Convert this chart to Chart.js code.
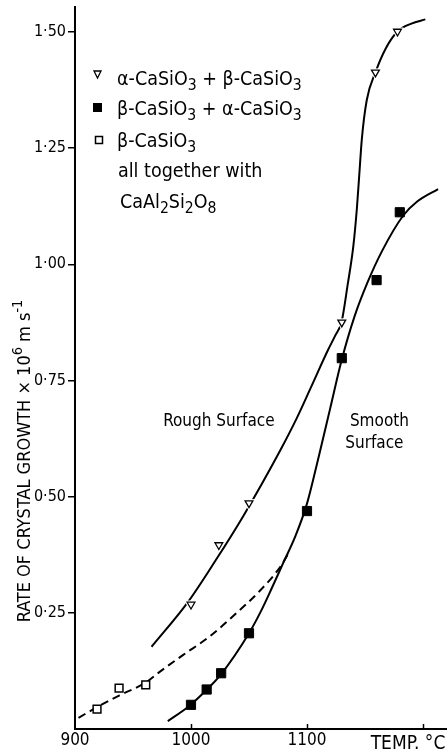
<!DOCTYPE html>
<html>
<head>
<meta charset="utf-8">
<script src="https://cdn.jsdelivr.net/npm/chart.js@4.4.1/dist/chart.umd.min.js"></script>
<style>
html,body{margin:0;padding:0;background:#fff;}
#c{display:block;}
</style>
</head>
<body>
<canvas id="c" width="447" height="752"></canvas>
<script>
const FONT = '"DejaVu Sans Condensed", "DejaVu Sans", sans-serif';
const TICKFONT = '"DejaVu Sans Condensed", "DejaVu Sans", sans-serif';

// measured points
const triTemp = [1000, 1024, 1050, 1130, 1159, 1178];
const triRate = [0.268, 0.396, 0.486, 0.875, 1.413, 1.501];
const fillTemp = [1000, 1013.5, 1026, 1050, 1100, 1130, 1160, 1180];
const fillRate = [0.052, 0.085, 0.120, 0.206, 0.469, 0.798, 0.966, 1.112];
const openTemp = [919, 938, 961];
const openRate = [0.043, 0.088, 0.095];

// fitted curves
const roughTemp = [966, 997, 1021, 1045, 1077, 1091, 1103, 1118, 1124, 1130, 1135, 1140, 1143, 1145, 1147.3, 1151.5, 1159, 1168, 1178, 1190, 1202];
const roughRate = [0.177, 0.272, 0.362, 0.458, 0.600, 0.668, 0.733, 0.815, 0.845, 0.878, 0.955, 1.040, 1.120, 1.190, 1.270, 1.353, 1.413, 1.465, 1.501, 1.518, 1.527];
const smoothTemp = [980, 997, 1013, 1026, 1050, 1060, 1070, 1080, 1090, 1100, 1110, 1120, 1130, 1141, 1152, 1165, 1183, 1195, 1213];
const smoothRate = [0.017, 0.047, 0.083, 0.118, 0.206, 0.252, 0.305, 0.360, 0.415, 0.485, 0.585, 0.690, 0.795, 0.888, 0.960, 1.030, 1.105, 1.135, 1.162];
const dashTemp = [903, 919, 938, 961, 973, 993, 1016, 1039, 1060, 1077, 1084];
const dashRate = [0.024, 0.047, 0.072, 0.100, 0.123, 0.159, 0.199, 0.249, 0.299, 0.349, 0.378];

// axes
const xTicks = [900, 1000, 1100, 1200];
const xTickLabels = ['900', '1000', '1100', ''];
const xUnitLabel = 'TEMP. °C';
const yTicks = [0.25, 0.50, 0.75, 1.00, 1.25, 1.50];
const yTitle = [['RATE OF CRYSTAL GROWTH × 10', ''], ['6', 'sup'], [' m s', ''], ['-1', 'sup']];

const legendRows = [
  {marker: 'tri', parts: [['α-CaSiO', ''], ['3', 'sub'], [' + β-CaSiO', ''], ['3', 'sub']]},
  {marker: 'fill', parts: [['β-CaSiO', ''], ['3', 'sub'], [' + α-CaSiO', ''], ['3', 'sub']]},
  {marker: 'open', parts: [['β-CaSiO', ''], ['3', 'sub']]},
  {marker: null, parts: [['all together with', '']]},
  {marker: null, parts: [['CaAl', ''], ['2', 'sub'], ['Si', ''], ['2', 'sub'], ['O', ''], ['8', 'sub']]}
];
const notes = [
  {text: 'Rough Surface', x: 976, y: 0.662},
  {text: 'Smooth', x: 1137, y: 0.662},
  {text: 'Surface', x: 1133, y: 0.615}
];

const pts = (xs, ys) => xs.map((x, i) => ({x: x, y: ys[i]}));

function rich(ctx, parts, x, y, size) {
  ctx.textBaseline = 'alphabetic';
  ctx.textAlign = 'left';
  for (const [t, k] of parts) {
    const s = k ? size * 0.8 : size;
    ctx.font = s + 'px ' + FONT;
    const dy = k === 'sub' ? size * 0.25 : (k === 'sup' ? -size * 0.45 : 0);
    ctx.fillText(t, x, y + dy);
    x += ctx.measureText(t).width;
  }
  return x;
}
function richWidth(ctx, parts, size) {
  let w = 0;
  for (const [t, k] of parts) {
    const s = k ? size * 0.8 : size;
    ctx.font = s + 'px ' + FONT;
    w += ctx.measureText(t).width;
  }
  return w;
}

const annot = {
  id: 'annot',
  afterDraw(chart) {
    const ctx = chart.ctx;
    const xs = chart.scales.x, ys = chart.scales.y;
    ctx.save();
    ctx.fillStyle = '#000';
    ctx.strokeStyle = '#000';
    // inner x ticks
    ctx.lineWidth = 1.5;
    for (const v of xTicks.slice(1)) {
      const px = Math.round(xs.getPixelForValue(v)) + 0.5;
      ctx.beginPath();
      ctx.moveTo(px, ys.bottom);
      ctx.lineTo(px, ys.bottom - 5);
      ctx.stroke();
    }
    // unit label at the end of the x axis
    ctx.font = '19px ' + FONT;
    ctx.textAlign = 'center';
    ctx.textBaseline = 'alphabetic';
    ctx.fillText(xUnitLabel, xs.getPixelForValue(1200) - 15, 749);
    // y title
    ctx.save();
    const w = richWidth(ctx, yTitle, 18);
    ctx.translate(30, 461);
    ctx.rotate(-Math.PI / 2);
    rich(ctx, yTitle, -w / 2, 0, 18);
    ctx.restore();
    // legend
    const rowsY = [85, 115, 147, 177, 208];
    legendRows.forEach((r, i) => {
      if (r.marker === 'tri') {
        const cy = 74;
        ctx.lineWidth = 1.3;
        ctx.beginPath();
        ctx.moveTo(94, cy - 3);
        ctx.lineTo(101, cy - 3);
        ctx.lineTo(97.5, cy + 4);
        ctx.closePath();
        ctx.stroke();
      } else if (r.marker === 'fill') {
        ctx.fillRect(93, 103, 9, 9);
      } else if (r.marker === 'open') {
        ctx.lineWidth = 1.5;
        ctx.strokeRect(95.5, 136.5, 7, 7);
      }
      const x0 = r.marker ? 117 : 118;
      rich(ctx, r.parts, i === 4 ? 120 : x0, rowsY[i], 19.5);
    });
    // surface notes
    ctx.font = '17px ' + FONT;
    ctx.textAlign = 'left';
    ctx.textBaseline = 'middle';
    for (const n of notes) {
      ctx.fillText(n.text, xs.getPixelForValue(n.x), ys.getPixelForValue(n.y));
    }
    ctx.restore();
  }
};

const curve = (xs, ys, dash) => ({
  data: pts(xs, ys), showLine: true, pointRadius: 0, borderColor: '#000', borderWidth: 2,
  cubicInterpolationMode: 'monotone', borderDash: dash || [], fill: false, order: 3
});

new Chart(document.getElementById('c'), {
  type: 'scatter',
  data: {
    datasets: [
      curve(roughTemp, roughRate),
      curve(smoothTemp, smoothRate),
      curve(dashTemp, dashRate, [8, 5]),
      {data: pts(triTemp, triRate), pointStyle: 'triangle', rotation: 180, pointRadius: 7,
       backgroundColor: '#fff', borderColor: '#fff', borderWidth: 1, order: 2},
      {data: pts(triTemp, triRate), pointStyle: 'triangle', rotation: 180, pointRadius: 4.5,
       backgroundColor: '#fff', borderColor: '#000', borderWidth: 1.3, order: 1},
      {data: pts(fillTemp, fillRate), pointStyle: 'rect', pointRadius: 6.5,
       backgroundColor: '#000', borderColor: '#000', borderWidth: 1, order: 1},
      {data: pts(openTemp, openRate), pointStyle: 'rect', pointRadius: 5.5,
       backgroundColor: '#fff', borderColor: '#000', borderWidth: 1.5, order: 1}
    ]
  },
  options: {
    responsive: false, animation: false, devicePixelRatio: 1,
    layout: {autoPadding: false, padding: {top: 7, left: 0, right: 0, bottom: 0}},
    plugins: {legend: {display: false}, tooltip: {enabled: false}},
    scales: {
      x: {
        type: 'linear', min: 900, max: 1220.7,
        afterBuildTicks: s => { s.ticks = xTicks.map(v => ({value: v})); },
        afterFit: s => { s.height = 23; },
        border: {display: true, color: '#000', width: 2},
        grid: {display: true, drawOnChartArea: false, drawTicks: false},
        ticks: {callback: (v, i) => xTickLabels[i], color: '#000', font: {family: TICKFONT, size: 17},
                padding: 1, maxRotation: 0, autoSkip: false}
      },
      y: {
        type: 'linear', min: 0, max: 1.5537,
        afterBuildTicks: s => { s.ticks = yTicks.map(v => ({value: v})); },
        afterFit: s => { s.width = 75; },
        border: {display: true, color: '#000', width: 2},
        grid: {display: true, drawOnChartArea: false, drawTicks: true, tickLength: 7, color: '#000', lineWidth: 1.5},
        ticks: {callback: v => v.toFixed(2).replace('.', '·'), color: '#000', font: {family: TICKFONT, size: 16, lineHeight: 0.6},
                padding: 2, autoSkip: false}
      }
    }
  },
  plugins: [annot]
});
</script>
</body>
</html>
